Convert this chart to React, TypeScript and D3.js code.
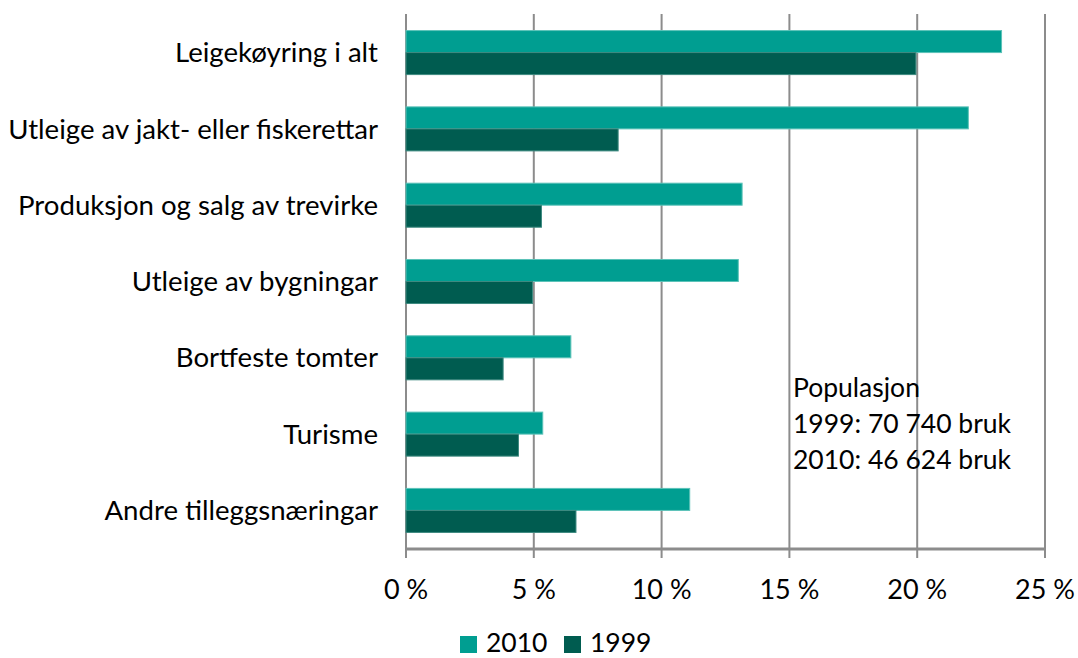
import React from "react";
import * as d3 from "d3";

const categories = [
  "Leigekøyring i alt",
  "Utleige av jakt- eller fiskerettar",
  "Produksjon og salg av trevirke",
  "Utleige av bygningar",
  "Bortfeste tomter",
  "Turisme",
  "Andre tilleggsnæringar",
];
const values2010 = [23.3, 22.0, 13.15, 13.0, 6.45, 5.35, 11.1];
const values1999 = [19.95, 8.3, 5.3, 4.95, 3.8, 4.4, 6.65];
const seriesNames = ["2010", "1999"];
const seriesColors = ["#009E91", "#005C50"];
const seriesStroke = ["#5CC2B8", "#3E8A80"];
const xTicks = [0, 5, 10, 15, 20, 25];
const noteLines = ["Populasjon", "1999: 70 740 bruk", "2010: 46 624 bruk"];

const W = 1078;
const H = 658;
const FONT = "Lato, 'Liberation Sans', sans-serif";

export default function App() {
  const x = d3.scaleLinear().domain([0, 25]).range([406, 1045]);
  const y = d3
    .scaleBand<string>()
    .domain(categories)
    .range([14, 549])
    .paddingInner(0.423)
    .paddingOuter(0.217);
  const inner = d3
    .scaleBand<string>()
    .domain(seriesNames)
    .range([0, y.bandwidth()]);
  const series = [values2010, values1999];
  const top = 14;
  const axisY = 549;

  return (
    <svg
      width={W}
      height={H}
      style={{ position: "absolute", left: 0, top: 0, display: "block", background: "#fff" }}
      fontFamily={FONT}
    >
      {xTicks.map((t) => (
        <line
          key={"g" + t}
          x1={x(t)}
          x2={x(t)}
          y1={top}
          y2={axisY + 9}
          stroke="#8C8C8C"
          strokeWidth={2}
        />
      ))}
      {categories.map((c, i) =>
        seriesNames.map((s, j) => (
          <rect
            key={c + s}
            x={x(0)}
            y={(y(c) as number) + (inner(s) as number)}
            width={x(series[j][i]) - x(0)}
            height={inner.bandwidth()}
            fill={seriesColors[j]}
            stroke={seriesStroke[j]}
            strokeWidth={1}
          />
        ))
      )}
      <line x1={x(0) - 1} x2={x(25) + 1} y1={axisY} y2={axisY} stroke="#8C8C8C" strokeWidth={3} />
      {xTicks.map((t) => (
        <text
          key={"t" + t}
          x={x(t)}
          y={599}
          textAnchor="middle"
          fontSize={27}
          fill="#000"
        >
          {t} %
        </text>
      ))}
      {categories.map((c) => (
        <text
          key={"c" + c}
          x={378}
          y={(y(c) as number) + y.bandwidth() / 2}
          dy="0.35em"
          textAnchor="end"
          fontSize={27.6}
          fill="#000"
        >
          {c}
        </text>
      ))}
      {noteLines.map((l, i) => (
        <text key={"n" + i} x={793} y={397 + i * 36} fontSize={26.5} fill="#000">
          {l}
        </text>
      ))}
      {seriesNames.map((s, j) => (
        <g key={"l" + s} transform={`translate(${460 + j * 104},0)`}>
          <rect x={0} y={636} width={17} height={17} fill={seriesColors[j]} />
          <text x={26} y={652} fontSize={26.5} fill="#000">
            {s}
          </text>
        </g>
      ))}
    </svg>
  );
}
